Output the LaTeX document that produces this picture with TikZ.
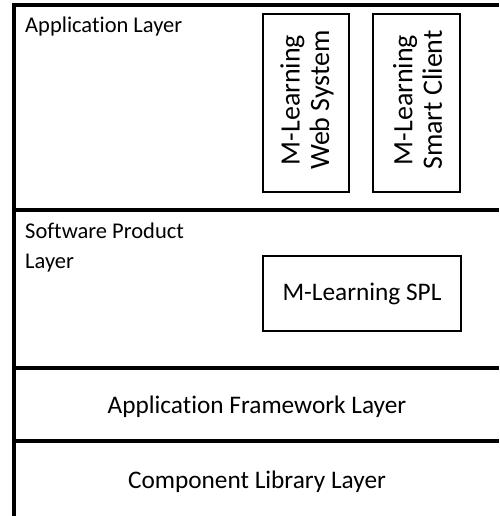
\documentclass[tikz,border=0pt]{standalone}
\usepackage{fontspec}
\setmainfont[Ligatures=NoCommon]{Carlito}
\begin{document}
\begin{tikzpicture}[x=1pt,y=-1pt,
  layerline/.style={line width=3.2pt},
  compbox/.style={draw,line width=2pt,inner sep=0pt,align=center},
  smalllbl/.style={anchor=base west,inner sep=0pt,font=\fontsize{22.5}{30}\selectfont},
  biglbl/.style={anchor=base,inner sep=0pt,font=\fontsize{25.3}{29}\selectfont},
  rottxt/.style={rotate=90,align=center,font=\fontsize{28}{29.5}\selectfont,inner sep=0pt}]
\useasboundingbox (0,0) rectangle (499,516);
% outer frame
\draw[layerline,line join=miter] (499,5) -- (14,5) -- (14,516);
\draw[layerline] (14,210) -- (499,210);
\draw[layerline] (14,368) -- (499,368);
\draw[layerline] (14,441) -- (499,441);
% labels
\node[smalllbl] (appl) at (25,33) {Application Layer};
\node[smalllbl] (spl1) at (25,238) {Software Product};
\node[smalllbl] (spl2) at (25,268) {Layer};
\node[biglbl] (afl) at (257,413) {Application Framework Layer};
\node[biglbl] (cll) at (257,488) {Component Library Layer};
% component boxes
\node[compbox,minimum width=86pt,minimum height=178pt] (webbox) at (306,103) {};
\node[rottxt] (webtxt) at (307,100) {M-Learning\\Web System};
\node[compbox,minimum width=87pt,minimum height=178pt] (smartbox) at (416.5,103) {};
\node[rottxt] (smarttxt) at (417.5,100) {M-Learning\\Smart Client};
\node[compbox,minimum width=198pt,minimum height=75pt,font=\fontsize{25.3}{29}\selectfont] (splbox) at (362,293.5) {M-Learning SPL};
\end{tikzpicture}
\end{document}
